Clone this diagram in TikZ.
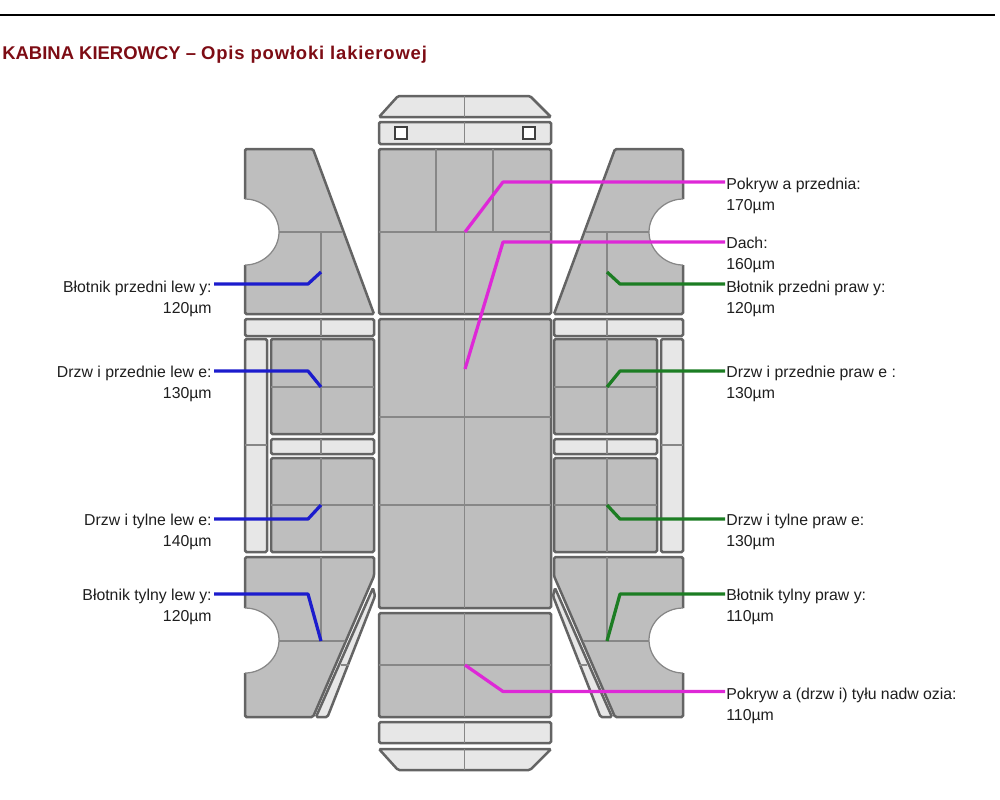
\documentclass[tikz,border=0pt]{standalone}
\usepackage{fontspec}
\setmainfont{Liberation Sans}
\usetikzlibrary{calc}
\definecolor{mframe}{RGB}{100,100,100}
\definecolor{mseam}{RGB}{135,135,135}
\definecolor{mbody}{RGB}{190,190,190}
\definecolor{mtrim}{RGB}{231,231,231}
\definecolor{mtitle}{RGB}{125,12,20}
\definecolor{mblue}{RGB}{28,28,205}
\definecolor{mpink}{RGB}{222,40,215}
\definecolor{mgreen}{RGB}{28,125,35}
\definecolor{mtext}{RGB}{30,30,30}

\begin{document}
\begin{tikzpicture}[x=0.02cm,y=-0.02cm,
                    panel/.style={draw=mframe,fill=mbody,line width=0.05cm,rounded corners=0.03cm},
                    trim/.style={panel,fill=mtrim},
                    seam/.style={draw=mseam,line width=0.025cm},
                    latch/.style={draw=black!75,fill=white,line width=0.035cm},
                    lbl/.style={inner sep=0pt,text=mtext,font=\fontsize{9}{11.9}\selectfont,execute at begin node=\strut},
                    lbll/.style={lbl,anchor=north east,align=right},
                    lblr/.style={lbl,anchor=north west,align=left},
                    lnk/.style={line width=0.065cm,line join=round},
                    lnkb/.style={lnk,mblue},
                    lnkp/.style={lnk,mpink},
                    lnkg/.style={lnk,mgreen}
]
\useasboundingbox (0,0) rectangle (1000,799);
\draw[black,line width=0.035cm] (0,15) -- (995,15);
\node[anchor=base west,inner sep=0pt,text=mtitle,font=\fontsize{10.5}{12}\selectfont\bfseries] (title) at (2,59)
  {KABINA KIEROWCY -- {\addfontfeature{LetterSpace=4.5}Opis powłoki lakierowej}};

% centre column
\draw[trim] (379,117) -- (398,96) -- (530,96) -- (551,117) -- cycle;
\draw[seam] (464.5,96) -- (464.5,117);
\draw[trim] (379,122) rectangle (551,144);
\draw[seam] (464.5,122) -- (464.5,144);
\draw[latch] (395,127) rectangle (407,139);
\draw[latch] (523,127) rectangle (535,139);
\draw[panel] (379,149) rectangle (551,314);
\draw[seam] (379,232) -- (551,232) (464.5,232) -- (464.5,314);
\draw[seam] (436,149) -- (436,232) (493,149) -- (493,232);
\draw[panel] (379,319) rectangle (551,608);
\draw[seam] (464.5,319) -- (464.5,608) (379,417) -- (551,417) (379,505) -- (551,505);
\draw[panel] (379,613) rectangle (551,717);
\draw[seam] (464.5,613) -- (464.5,717) (379,665) -- (551,665);
\draw[trim] (379,722) rectangle (551,743);
\draw[seam] (464.5,722) -- (464.5,743);
\draw[trim] (379,749) -- (551,749) -- (530,770) -- (398,770) -- cycle;
\draw[seam] (464.5,749) -- (464.5,770);

% side panels, right one mirrored
\foreach \sgn/\off in {1/0,-1/928}{
\begin{scope}[xshift=\off*0.02cm,xscale=\sgn]
  \fill[mbody] (245,149) -- (313,149) -- (374,314) -- (245,314) -- (245,265)
    .. controls (263,265) and (279,250) .. (279,232) .. controls (279,214) and (263,199) .. (245,199) -- cycle;
  \draw[panel,fill=none] (245,199) -- (245,149) -- (313,149) -- (374,314) -- (245,314) -- (245,265);
  \draw[seam] (245,265) .. controls (263,265) and (279,250) .. (279,232) .. controls (279,214) and (263,199) .. (245,199);
  \draw[seam] (279,232) -- (342,232) (321,232) -- (321,314);
  \draw[trim] (245,319) rectangle (374,336);
  \draw[seam] (321,319) -- (321,336);
  \draw[trim] (245,339) rectangle (267,552);
  \draw[seam] (245,445) -- (267,445);
  \draw[panel] (271,339) rectangle (374,434);
  \draw[seam] (321,339) -- (321,434) (271,387) -- (374,387);
  \draw[trim] (271,439) rectangle (374,454);
  \draw[seam] (321,439) -- (321,454);
  \draw[panel] (271,458) rectangle (374,552);
  \draw[seam] (321,458) -- (321,552) (271,505) -- (374,505);
  \fill[mbody] (245,557) -- (374,557) -- (374,576) -- (313,717) -- (245,717) -- (245,673)
    .. controls (263,673) and (279,658) .. (279,640) .. controls (279,622) and (263,608) .. (245,608) -- cycle;
  \draw[panel,fill=none] (245,608) -- (245,557) -- (374,557) -- (374,576) -- (313,717) -- (245,717) -- (245,673);
  \draw[seam] (245,673) .. controls (263,673) and (279,658) .. (279,640) .. controls (279,622) and (263,608) .. (245,608);
  \draw[seam] (279,641) -- (345,641) (321,557) -- (321,641);
  \draw[trim] (373,588) -- (375,596) -- (327.5,717) -- (316,717) -- cycle;
  \draw[seam] (341,665) -- (349,665);
\end{scope}
}

% target points
\coordinate (thood) at (465,232);
\coordinate (troof) at (465,369);
\coordinate (trear) at (465,665);
\coordinate (tfl) at (321,272);
\coordinate (tdl) at (321,387);
\coordinate (trl) at (321,505);
\coordinate (tbl) at (321,641);
\coordinate (tfr) at (607,272);
\coordinate (tdr) at (607,387);
\coordinate (trr) at (607,505);
\coordinate (tbr) at (607,641);

% labels
\node[lbll] (lfl) at (212,281) {Błotnik przedni lew y:\\120µm};
\node[lbll] (ldl) at (212,365.5) {Drzw i przednie lew e:\\130µm};
\node[lbll] (lrl) at (212,514) {Drzw i tylne lew e:\\140µm};
\node[lbll] (lbl) at (212,589) {Błotnik tylny lew y:\\120µm};
\node[lblr] (lhood) at (726,178) {Pokryw a przednia:\\170µm};
\node[lblr] (lroof) at (726,237) {Dach:\\160µm};
\node[lblr] (lfr) at (726,281) {Błotnik przedni praw y:\\120µm};
\node[lblr] (ldr) at (726,365.5) {Drzw i przednie praw e :\\130µm};
\node[lblr] (lrr) at (726,514) {Drzw i tylne praw e:\\130µm};
\node[lblr] (lbr) at (726,589) {Błotnik tylny praw y:\\110µm};
\node[lblr] (lrear) at (726,687.5) {Pokryw a (drzw i) tyłu nadw ozia:\\110µm};

% connectors
\draw[lnkb] ([xshift=0.04cm,yshift=-0.06cm]lfl.north east) -- (308,284) -- (tfl);
\draw[lnkb] ([xshift=0.04cm,yshift=-0.11cm]ldl.north east) -- (308,371) -- (tdl);
\draw[lnkb] ([xshift=0.04cm,yshift=-0.1cm]lrl.north east) -- (308,519) -- (trl);
\draw[lnkb] ([xshift=0.04cm,yshift=-0.1cm]lbl.north east) -- (308,594) -- (tbl);
\draw[lnkp] ([xshift=-0.02cm,yshift=-0.08cm]lhood.north west) -- (503,182) -- (thood);
\draw[lnkp] ([xshift=-0.02cm,yshift=-0.1cm]lroof.north west) -- (503,242) -- (troof);
\draw[lnkp] ([xshift=-0.02cm,yshift=-0.08cm]lrear.north west) -- (503,691.5) -- (trear);
\draw[lnkg] ([xshift=-0.02cm,yshift=-0.06cm]lfr.north west) -- (620,284) -- (tfr);
\draw[lnkg] ([xshift=-0.02cm,yshift=-0.11cm]ldr.north west) -- (620,371) -- (tdr);
\draw[lnkg] ([xshift=-0.02cm,yshift=-0.1cm]lrr.north west) -- (620,519) -- (trr);
\draw[lnkg] ([xshift=-0.02cm,yshift=-0.1cm]lbr.north west) -- (620,594) -- (tbr);
\end{tikzpicture}
\end{document}
